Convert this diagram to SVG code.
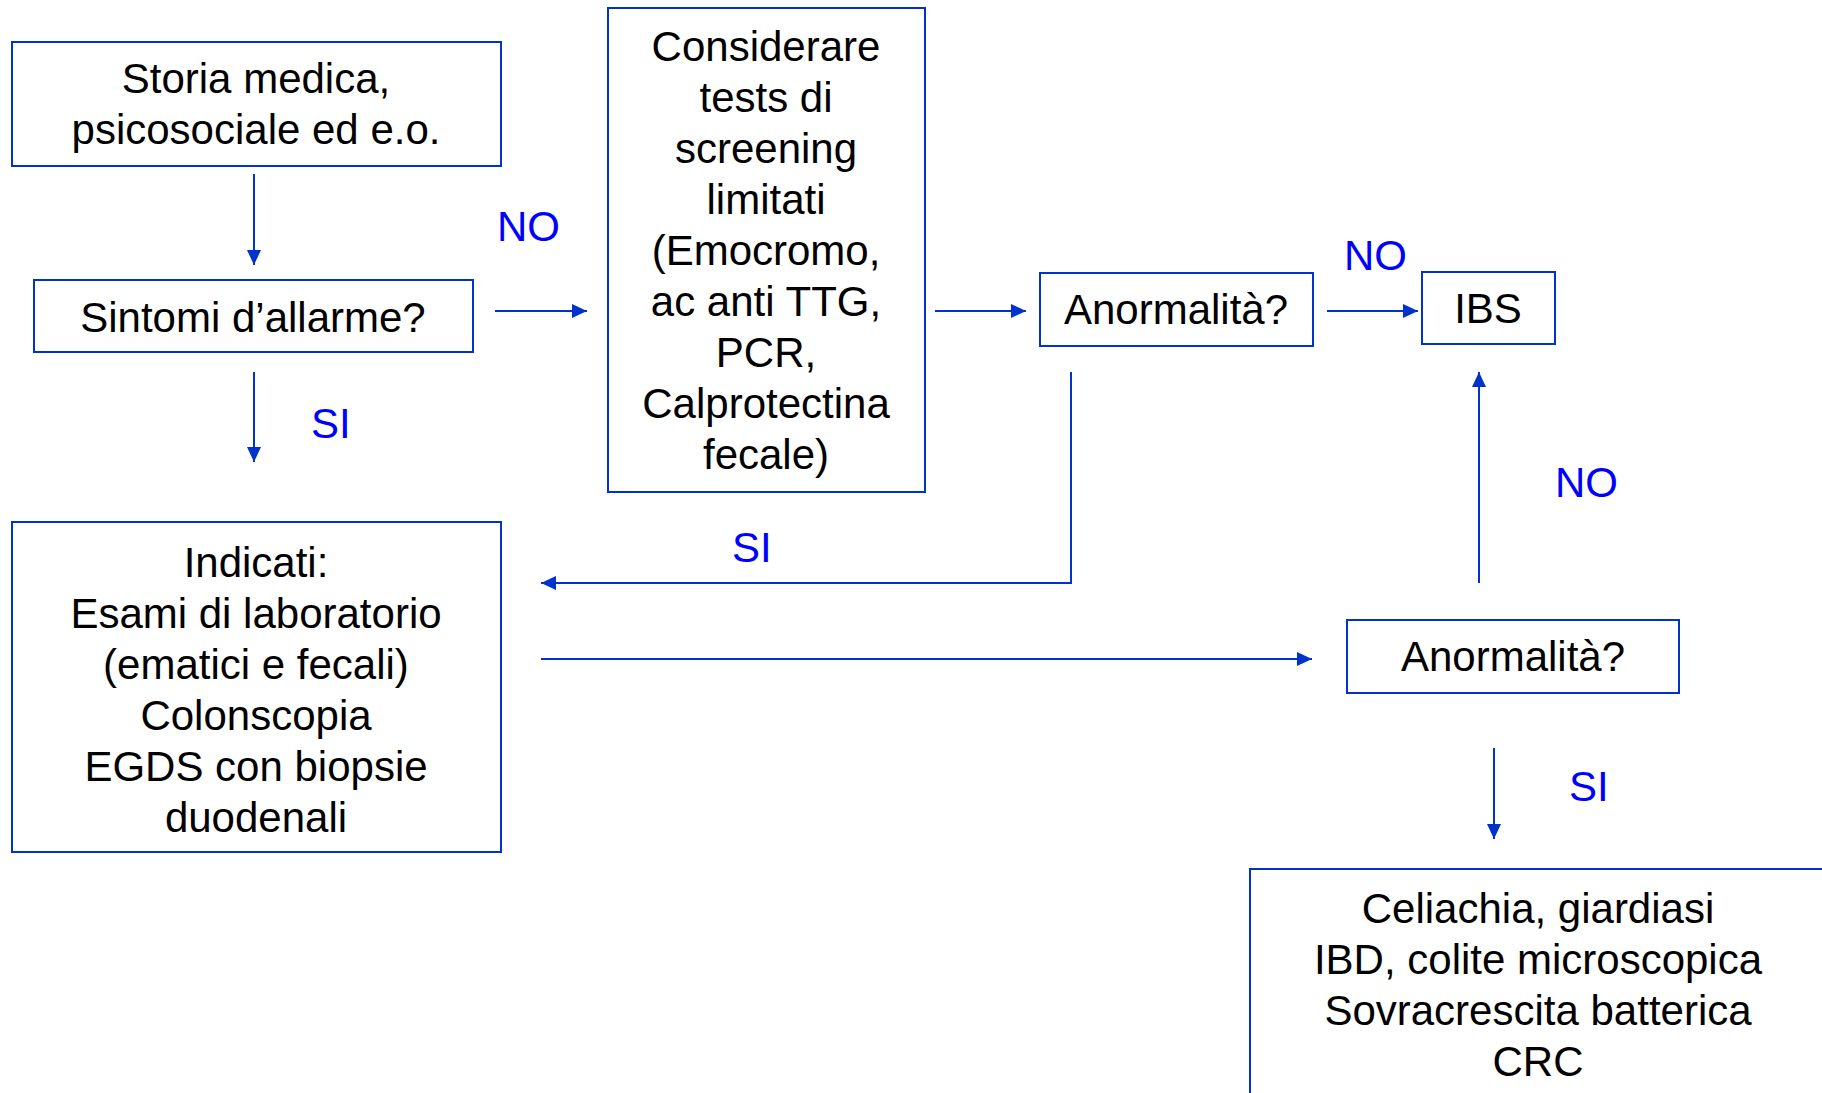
<svg xmlns="http://www.w3.org/2000/svg" width="1822" height="1093" viewBox="0 0 1822 1093">
<defs>
<style>
.box{fill:#fff;stroke:#0033CC;stroke-width:2}
.t{font-family:"Liberation Sans",Arial,sans-serif;font-size:42px;fill:#000;text-anchor:middle}
.lb{font-family:"Liberation Sans",Arial,sans-serif;font-size:42px;fill:#0000FF}
.c{fill:none;stroke:#0033CC;stroke-width:2}
</style>
<marker id="ah" markerUnits="userSpaceOnUse" markerWidth="16" markerHeight="14" refX="15" refY="7" orient="auto">
<path d="M0,0 L15,7 L0,14 z" fill="#0033CC"/>
</marker>
</defs>
<rect width="1822" height="1093" fill="#fff"/>
<g id="connectors">
<line class="c" x1="254" y1="174" x2="254" y2="265" marker-end="url(#ah)"/>
<line class="c" x1="254" y1="372" x2="254" y2="462" marker-end="url(#ah)"/>
<line class="c" x1="495" y1="311" x2="587" y2="311" marker-end="url(#ah)"/>
<line class="c" x1="935" y1="311" x2="1026" y2="311" marker-end="url(#ah)"/>
<line class="c" x1="1327" y1="311" x2="1418" y2="311" marker-end="url(#ah)"/>
<polyline class="c" points="1071,372 1071,583 541,583" marker-end="url(#ah)"/>
<line class="c" x1="541" y1="659" x2="1312" y2="659" marker-end="url(#ah)"/>
<line class="c" x1="1479" y1="583" x2="1479" y2="372" marker-end="url(#ah)"/>
<line class="c" x1="1494" y1="748" x2="1494" y2="839" marker-end="url(#ah)"/>
<text class="lb" x="497" y="241">NO</text>
<text class="lb" x="311" y="438">SI</text>
<text class="lb" x="732" y="562">SI</text>
<text class="lb" x="1344" y="270">NO</text>
<text class="lb" x="1555" y="497">NO</text>
<text class="lb" x="1569" y="801">SI</text>
</g>
<g id="storia">
<rect class="box" x="12" y="42" width="489" height="124"/>
<text class="t" x="256" y="93">Storia medica,</text>
<text class="t" x="256" y="144">psicosociale ed e.o.</text>
</g>
<g id="sintomi">
<rect class="box" x="34" y="280" width="439" height="72"/>
<text class="t" x="253" y="332">Sintomi d’allarme?</text>
</g>
<g id="considerare">
<rect class="box" x="608" y="8" width="317" height="484"/>
<text class="t" x="766" y="61">Considerare</text>
<text class="t" x="766" y="112">tests di</text>
<text class="t" x="766" y="163">screening</text>
<text class="t" x="766" y="214">limitati</text>
<text class="t" x="766" y="265">(Emocromo,</text>
<text class="t" x="766" y="316">ac anti TTG,</text>
<text class="t" x="766" y="367">PCR,</text>
<text class="t" x="766" y="418">Calprotectina</text>
<text class="t" x="766" y="469">fecale)</text>
</g>
<g id="anormalita1">
<rect class="box" x="1040" y="273" width="273" height="73"/>
<text class="t" x="1176" y="324">Anormalità?</text>
</g>
<g id="ibs">
<rect class="box" x="1422" y="272" width="133" height="72"/>
<text class="t" x="1488" y="323">IBS</text>
</g>
<g id="indicati">
<rect class="box" x="12" y="522" width="489" height="330"/>
<text class="t" x="256" y="577">Indicati:</text>
<text class="t" x="256" y="628">Esami di laboratorio</text>
<text class="t" x="256" y="679">(ematici e fecali)</text>
<text class="t" x="256" y="730">Colonscopia</text>
<text class="t" x="256" y="781">EGDS con biopsie</text>
<text class="t" x="256" y="832">duodenali</text>
</g>
<g id="anormalita2">
<rect class="box" x="1347" y="620" width="332" height="73"/>
<text class="t" x="1513" y="671">Anormalità?</text>
</g>
<g id="diagnosi">
<rect class="box" x="1250" y="869" width="576" height="240"/>
<text class="t" x="1538" y="923">Celiachia, giardiasi</text>
<text class="t" x="1538" y="974">IBD, colite microscopica</text>
<text class="t" x="1538" y="1025">Sovracrescita batterica</text>
<text class="t" x="1538" y="1076">CRC</text>
</g>
</svg>
